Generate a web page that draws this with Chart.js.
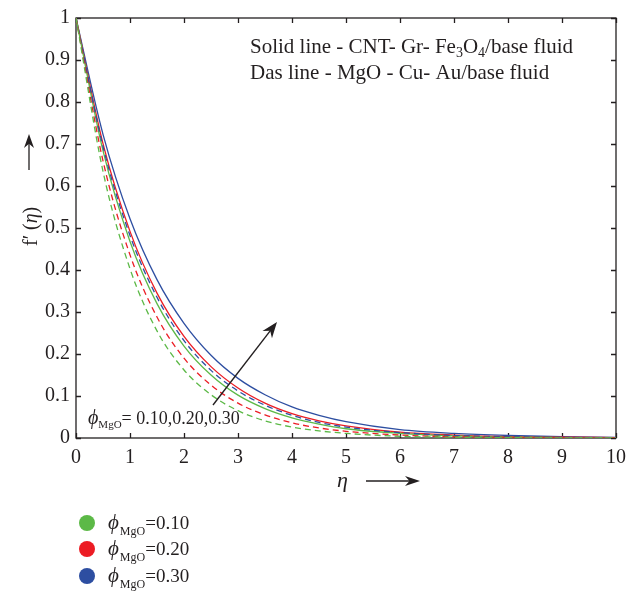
<!DOCTYPE html>
<html>
<head>
<meta charset="utf-8">
<script src="https://cdn.jsdelivr.net/npm/chart.js@4.4.1/dist/chart.umd.min.js"></script>
<style>
  html, body { margin: 0; padding: 0; background: #fff; }
  #wrap { width: 627px; height: 597px; }
</style>
</head>
<body>
<div id="wrap"><canvas id="fp"></canvas></div>
<script>
// eta points
const etaVals = [0, 0.5, 1, 1.5, 2, 2.5, 3, 3.5, 4, 4.5, 5, 6, 7, 8, 9, 10];

// solid lines - CNT-Gr-Fe3O4/base fluid
const solidGreen = [1, 0.684, 0.468, 0.320, 0.219, 0.150, 0.102, 0.070, 0.048, 0.033, 0.022, 0.011, 0.005, 0.002, 0.001, 0.0005];
const solidRed   = [1, 0.701, 0.492, 0.345, 0.242, 0.170, 0.119, 0.083, 0.058, 0.041, 0.029, 0.014, 0.007, 0.003, 0.002, 0.0008];
const solidBlue  = [1, 0.723, 0.522, 0.377, 0.273, 0.197, 0.142, 0.103, 0.074, 0.054, 0.039, 0.020, 0.011, 0.006, 0.003, 0.0015];

// dashed lines - MgO-Cu-Au/base fluid
const dashGreen = [1, 0.635, 0.403, 0.255, 0.162, 0.103, 0.065, 0.041, 0.026, 0.017, 0.011, 0.004, 0.002, 0.0007, 0.0003, 0.0001];
const dashRed   = [1, 0.660, 0.436, 0.288, 0.190, 0.126, 0.083, 0.055, 0.036, 0.024, 0.016, 0.007, 0.003, 0.0013, 0.0006, 0.0002];
const dashBlue  = [1, 0.694, 0.482, 0.335, 0.232, 0.161, 0.112, 0.078, 0.054, 0.037, 0.026, 0.013, 0.006, 0.003, 0.0014, 0.0007];

const legendVals = ["0.10", "0.20", "0.30"];

const GREEN = "#5cb947";
const RED = "#ec1c24";
const BLUE = "#2d4ea1";
const INK = "#231f20";
const SERIF = "'Liberation Serif', 'DejaVu Serif', serif";

function pts(arr) {
    return etaVals.map(function (e, i) { return { x: e, y: arr[i] }; });
}

function line(data, color, dashed) {
    return {
        data: pts(data),
        borderColor: color,
        borderWidth: 1.3,
        borderDash: dashed ? [6, 4] : [],
        pointRadius: 0,
        fill: false,
        cubicInterpolationMode: 'monotone'
    };
}

// draw text made of pieces (sub / italic bits)
function rich(ctx, parts, x, y) {
    let cx = x;
    parts.forEach(function (p) {
        ctx.font = p.font;
        ctx.fillText(p.t, cx, y + (p.dy || 0));
        cx += ctx.measureText(p.t).width + (p.gap || 0);
    });
    return cx;
}

function arrowHead(ctx, x1, y1, x2, y2, len, half) {
    let a = Math.atan2(y2 - y1, x2 - x1);
    ctx.beginPath();
    ctx.moveTo(x2, y2);
    ctx.lineTo(x2 - len * Math.cos(a) + half * Math.sin(a), y2 - len * Math.sin(a) - half * Math.cos(a));
    ctx.lineTo(x2 - (len * 0.7) * Math.cos(a), y2 - (len * 0.7) * Math.sin(a));
    ctx.lineTo(x2 - len * Math.cos(a) - half * Math.sin(a), y2 - len * Math.sin(a) + half * Math.cos(a));
    ctx.closePath();
    ctx.fill();
}

function arrow(ctx, x1, y1, x2, y2, len, half) {
    let a = Math.atan2(y2 - y1, x2 - x1);
    ctx.beginPath();
    ctx.moveTo(x1, y1);
    ctx.lineTo(x2 - len * 0.6 * Math.cos(a), y2 - len * 0.6 * Math.sin(a));
    ctx.stroke();
    arrowHead(ctx, x1, y1, x2, y2, len, half);
}

const extras = {
    id: 'extras',
    beforeDatasetsDraw: function (chart) {
        const ctx = chart.ctx;
        const a = chart.chartArea;
        const xs = chart.scales.x, ys = chart.scales.y;
        ctx.save();
        ctx.strokeStyle = INK;
        ctx.lineWidth = 1.3;
        ctx.strokeRect(a.left, a.top, a.right - a.left, a.bottom - a.top);
        // inward ticks on the box
        ctx.beginPath();
        for (let v = 0; v <= 10; v++) {
            let px = Math.round(xs.getPixelForValue(v)) + 0.5;
            ctx.moveTo(px, a.bottom); ctx.lineTo(px, a.bottom - 5);
            ctx.moveTo(px, a.top); ctx.lineTo(px, a.top + 5);
        }
        for (let v = 0; v <= 10; v++) {
            let py = Math.round(ys.getPixelForValue(v / 10)) + 0.5;
            ctx.moveTo(a.left, py); ctx.lineTo(a.left + 5, py);
            ctx.moveTo(a.right, py); ctx.lineTo(a.right - 5, py);
        }
        ctx.stroke();
        ctx.restore();
    },
    afterDatasetsDraw: function (chart) {
        const ctx = chart.ctx;
        ctx.save();
        ctx.fillStyle = INK;
        ctx.strokeStyle = INK;
        ctx.textBaseline = 'alphabetic';
        ctx.textAlign = 'left';

        // note box text top right
        const f21 = "21px " + SERIF;
        const f14 = "14px " + SERIF;
        rich(ctx, [
            { t: "Solid line - CNT- Gr- Fe", font: f21 },
            { t: "3", font: f14, dy: 4 },
            { t: "O", font: f21 },
            { t: "4", font: f14, dy: 4 },
            { t: "/base fluid", font: f21 }
        ], 250, 53);
        rich(ctx, [{ t: "Das line - MgO - Cu- Au/base fluid", font: f21 }], 250, 79);

        // phi label near the curves
        rich(ctx, [
            { t: "\u03d5", font: "italic 20px " + SERIF },
            { t: "MgO", font: "11px " + SERIF, dy: 4 },
            { t: "= 0.10,0.20,0.30", font: "18px " + SERIF }
        ], 88, 424);

        // increasing arrow
        ctx.lineWidth = 1.4;
        arrow(ctx, 213, 405, 277, 322, 16, 6);

        // y title with arrow
        ctx.save();
        ctx.translate(37, 218);
        ctx.rotate(-Math.PI / 2);
        rich(ctx, [
            { t: "f\u2032 (", font: "20px " + SERIF },
            { t: "\u03b7", font: "italic 20px " + SERIF },
            { t: ")", font: "20px " + SERIF }
        ], -28, 0);
        ctx.restore();
        ctx.lineWidth = 1.3;
        arrow(ctx, 29, 170, 29, 134, 14, 5);

        // x title with arrow
        rich(ctx, [{ t: "\u03b7", font: "italic 22px " + SERIF }], 337, 487);
        arrow(ctx, 366, 481, 420, 481, 15, 5);

        // legend dots
        const cols = [GREEN, RED, BLUE];
        const ly = [523, 549, 576];
        for (let i = 0; i < 3; i++) {
            ctx.fillStyle = cols[i];
            ctx.beginPath();
            ctx.arc(87, ly[i], 8, 0, Math.PI * 2);
            ctx.fill();
            ctx.fillStyle = INK;
            rich(ctx, [
                { t: "\u03d5", font: "italic 21px " + SERIF, gap: 1 },
                { t: "MgO", font: "12px " + SERIF, dy: 6 },
                { t: "=" + legendVals[i], font: "19px " + SERIF }
            ], 108, ly[i] + 6);
        }
        ctx.restore();
    }
};

new Chart(document.getElementById("fp"), {
    type: 'line',
    data: {
        datasets: [
            line(dashGreen, GREEN, true),
            line(dashRed, RED, true),
            line(dashBlue, BLUE, true),
            line(solidGreen, GREEN, false),
            line(solidRed, RED, false),
            line(solidBlue, BLUE, false)
        ]
    },
    options: {
        responsive: true,
        maintainAspectRatio: false,
        animation: false,
        layout: { padding: { left: 0, top: 12, right: 0, bottom: 0 } },
        plugins: { legend: { display: false }, tooltip: { enabled: false } },
        scales: {
            x: {
                type: 'linear', min: 0, max: 10,
                grid: { display: false, drawTicks: false },
                border: { display: false },
                ticks: { stepSize: 1, padding: 8, color: INK, font: { family: SERIF, size: 20 } },
                afterFit: function (s) { s.height = 159; s.paddingRight = 11; }
            },
            y: {
                min: 0, max: 1,
                grid: { display: false, drawTicks: false },
                border: { display: false },
                ticks: {
                    stepSize: 0.1, padding: 6, color: INK, font: { family: SERIF, size: 20 },
                    callback: function (v) { return String(Math.round(v * 10) / 10); }
                },
                afterFit: function (s) { s.width = 76; }
            }
        }
    },
    plugins: [extras]
});
</script>
</body>
</html>
